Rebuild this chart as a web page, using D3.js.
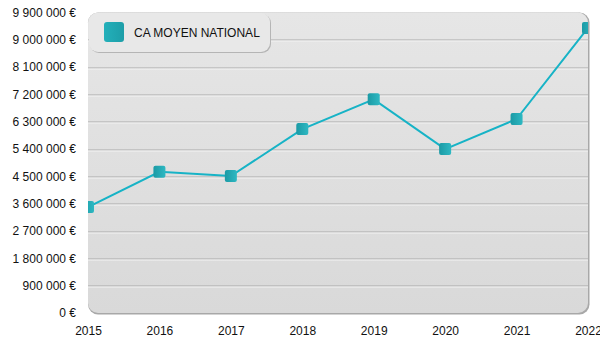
<!DOCTYPE html>
<html>
<head>
<meta charset="utf-8">
<script src="https://cdn.jsdelivr.net/npm/d3@7"></script>
<style>
  html, body { margin: 0; padding: 0; background: #fff; }
  svg { display: block; font-family: "Liberation Sans", Arial, sans-serif; }
</style>
</head>
<body>
<svg id="chart" width="600" height="350"></svg>
<script>
// Chiffre d'affaires moyen national par année
const years = ["2015", "2016", "2017", "2018", "2019", "2020", "2021", "2022"];
const caMoyen = [3490000, 4650000, 4510000, 6060000, 7040000, 5400000, 6390000, 9390000];
const yTicks = [0, 900000, 1800000, 2700000, 3600000, 4500000, 5400000, 6300000, 7200000, 8100000, 9000000, 9900000];
const seriesName = "CA MOYEN NATIONAL";

const svg = d3.select("#chart");
const W = 600, H = 350;
const m = { left: 88, right: 12, top: 12.5, bottom: 37 };
const iw = W - m.left - m.right, ih = H - m.top - m.bottom;

const fmt = v => d3.format(",")(v).replace(/,/g, " ") + " €";

const x = d3.scalePoint().domain(years).range([0, iw]);
const y = d3.scaleLinear().domain([0, 9900000]).range([ih, 0]);

const defs = svg.append("defs");
const bg = defs.append("linearGradient").attr("id", "bg").attr("x1", 0).attr("y1", 0).attr("x2", 0).attr("y2", 1);
bg.append("stop").attr("offset", "0%").attr("stop-color", "#e6e6e6");
bg.append("stop").attr("offset", "100%").attr("stop-color", "#d9d9d9");

const mk = defs.append("linearGradient").attr("id", "mk").attr("x1", 0).attr("y1", 0).attr("x2", 1).attr("y2", 0);
mk.append("stop").attr("offset", "0%").attr("stop-color", "#1b9aa5");
mk.append("stop").attr("offset", "100%").attr("stop-color", "#2eb8c2");

const lg = defs.append("linearGradient").attr("id", "lg").attr("x1", 0).attr("y1", 0).attr("x2", 1).attr("y2", 0);
lg.append("stop").attr("offset", "0%").attr("stop-color", "#23b0ba");
lg.append("stop").attr("offset", "100%").attr("stop-color", "#1d9ea8");

defs.append("clipPath").attr("id", "plotclip")
  .append("rect").attr("x", 0).attr("y", 0).attr("width", iw).attr("height", ih).attr("rx", 10);

const g = svg.append("g").attr("transform", `translate(${m.left},${m.top})`);

// panel shadow + background
g.append("rect").attr("x", 0).attr("y", 0).attr("width", iw + 1.5).attr("height", ih + 1.5)
  .attr("rx", 10).attr("fill", "#a8a8a8");
g.append("rect").attr("x", 0).attr("y", 0).attr("width", iw).attr("height", ih)
  .attr("rx", 10).attr("fill", "url(#bg)");

// embossed gridlines
const grid = g.append("g").attr("clip-path", "url(#plotclip)");
const gridTicks = yTicks.filter(v => v > 0 && v < 9900000);
grid.selectAll("line.dark").data(gridTicks).join("line")
  .attr("x1", 0).attr("x2", iw)
  .attr("y1", d => Math.round(y(d)) + 0.5).attr("y2", d => Math.round(y(d)) + 0.5)
  .attr("stroke", "#a9a9a9").attr("stroke-width", 1);
grid.selectAll("line.light").data(gridTicks).join("line")
  .attr("x1", 0).attr("x2", iw)
  .attr("y1", d => Math.round(y(d)) + 1.5).attr("y2", d => Math.round(y(d)) + 1.5)
  .attr("stroke", "#f4f4f4").attr("stroke-width", 1);

// y axis labels
const yAxis = d3.axisLeft(y).tickValues(yTicks).tickFormat(fmt).tickSize(0).tickPadding(12);
const ya = g.append("g").call(yAxis);
ya.select(".domain").remove();
ya.selectAll("text").attr("font-size", 12).attr("fill", "#111")
  .attr("font-family", "Liberation Sans, Arial, sans-serif");

// x axis labels
const xAxis = d3.axisBottom(x).tickSize(0).tickPadding(13);
const xa = g.append("g").attr("transform", `translate(0,${ih})`).call(xAxis);
xa.select(".domain").remove();
xa.selectAll("text").attr("font-size", 12).attr("fill", "#111")
  .attr("font-family", "Liberation Sans, Arial, sans-serif");

// series line and markers
const plot = g.append("g").attr("clip-path", "url(#plotclip)");
const line = d3.line().x((d, i) => x(years[i])).y(d => y(d));
plot.append("path").datum(caMoyen).attr("d", line)
  .attr("fill", "none").attr("stroke", "#17b3c6").attr("stroke-width", 2);
const ms = 12;
plot.selectAll("rect.pt").data(caMoyen).join("rect")
  .attr("class", "pt")
  .attr("x", (d, i) => x(years[i]) - ms / 2).attr("y", d => y(d) - ms / 2)
  .attr("width", ms).attr("height", ms).attr("rx", 2)
  .attr("fill", "url(#mk)");

// legend
const leg = svg.append("g").attr("transform", "translate(89,13)");
leg.append("rect").attr("x", 1).attr("y", 1).attr("width", 181).attr("height", 39).attr("rx", 9)
  .attr("fill", "#b5b5b5");
leg.append("rect").attr("x", 0).attr("y", 0).attr("width", 181).attr("height", 39).attr("rx", 9)
  .attr("fill", "#e8e8e8");
leg.append("rect").attr("x", 15).attr("y", 9).attr("width", 20).attr("height", 20).attr("rx", 3)
  .attr("fill", "url(#lg)");
leg.append("text").attr("x", 45).attr("y", 24).attr("font-size", 12).attr("fill", "#111")
  .text(seriesName);
</script>
</body>
</html>
